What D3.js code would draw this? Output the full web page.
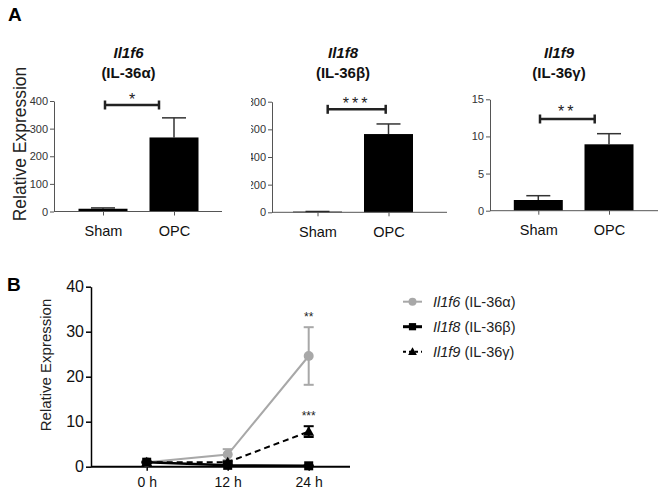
<!DOCTYPE html>
<html>
<head>
<meta charset="utf-8">
<script src="https://cdn.jsdelivr.net/npm/d3@7"></script>
<style>
  html, body { margin: 0; padding: 0; background: #fff; }
  svg { display: block; font-family: "Liberation Sans", Arial, sans-serif; }
</style>
</head>
<body>
<svg id="chart" width="663" height="491"></svg>
<script>
// ---------------- DATA ----------------
const groups = ["Sham", "OPC"];
const geneNames = ["Il1f6", "Il1f8", "Il1f9"];
const proteinNames = ["(IL-36α)", "(IL-36β)", "(IL-36γ)"];
const il1f6Bars = [10, 268];
const il1f6BarErr = [3, 71];
const il1f8Bars = [5, 566];
const il1f8BarErr = [1, 73];
const il1f9Bars = [1.44, 8.94];
const il1f9BarErr = [0.58, 1.43];
const il1f6Ticks = [0, 100, 200, 300, 400];
const il1f8Ticks = [0, 200, 400, 600, 800];
const il1f9Ticks = [0, 5, 10, 15];
const sigLabels = ["*", "***", "**"];

const times = ["0 h", "12 h", "24 h"];
const il1f6Mean = [1.0, 2.7, 24.6];
const il1f6Sem = [0.3, 1.2, 6.4];
const il1f8Mean = [1.0, 0.3, 0.2];
const il1f8Sem = [0.1, 0.1, 0.1];
const il1f9Mean = [1.0, 1.0, 7.8];
const il1f9Sem = [0.1, 0.2, 1.2];
const timeTicks = [0, 10, 20, 30, 40];
const timeSig = ["**", "***"];
const legendGenes = ["Il1f6", "Il1f8", "Il1f9"];
const legendProteins = [" (IL-36α)", " (IL-36β)", " (IL-36γ)"];

// ---------------- LAYOUT ----------------
const svg = d3.select("#chart");
svg.append("rect").attr("width", 663).attr("height", 491).attr("fill", "#fff");

const FONT = "'Liberation Sans', Arial, sans-serif";

svg.append("text").attr("x", 8).attr("y", 21).text("A")
  .attr("font-size", 19).attr("font-weight", "bold").attr("fill", "#000");
svg.append("text").attr("x", 7).attr("y", 291).text("B")
  .attr("font-size", 19).attr("font-weight", "bold").attr("fill", "#000");

const panels = [
  { vals: il1f6Bars, err: il1f6BarErr, ticks: il1f6Ticks, axisX: 54, endX: 222, c0: 103, c1: 174,
    y0: 211.5, y1: 101, sigL: 105, sigR: 159, sigY: 105, starY: 101, titleX: 128.5, clip: null, ls: 0 },
  { vals: il1f8Bars, err: il1f8BarErr, ticks: il1f8Ticks, axisX: 272, endX: 447, c0: 317.5, c1: 388.5,
    y0: 212.3, y1: 101.7, sigL: 327.7, sigR: 385.7, sigY: 109.3, starY: 105, titleX: 343, clip: 251, ls: 3 },
  { vals: il1f9Bars, err: il1f9BarErr, ticks: il1f9Ticks, axisX: 490, endX: 658, c0: 538.3, c1: 609,
    y0: 210.7, y1: 99.3, sigL: 540, sigR: 594.7, sigY: 119, starY: 113, titleX: 559, clip: null, ls: 3 }
];

svg.append("defs").append("clipPath").attr("id", "clipP2")
  .append("rect").attr("x", 251).attr("y", 0).attr("width", 420).attr("height", 260);

// Panel A y-label
svg.append("text")
  .attr("transform", "translate(26,144) rotate(-90)")
  .attr("text-anchor", "middle").attr("font-size", 17.5).attr("fill", "#222")
  .text("Relative Expression");

panels.forEach((p, i) => {
  const g = svg.append("g");
  if (p.clip !== null) g.attr("clip-path", "url(#clipP2)");
  const x = d3.scalePoint().domain(groups).range([p.c0, p.c1]);
  const y = d3.scaleLinear().domain([p.ticks[0], p.ticks[p.ticks.length - 1]]).range([p.y0, p.y1]);
  const bw = 49;

  // title
  const t = g.append("g").attr("font-weight", "bold").attr("font-size", 15).attr("fill", "#111")
    .attr("text-anchor", "middle");
  t.append("text").attr("x", p.titleX).attr("y", 58).attr("font-style", "italic").text(geneNames[i]);
  t.append("text").attr("x", p.titleX).attr("y", 77.5).text(proteinNames[i]);

  // error bars (upper only)
  groups.forEach((c, j) => {
    const cx = x(c);
    const top = y(p.vals[j] + p.err[j]);
    g.append("line").attr("x1", cx).attr("x2", cx).attr("y1", y(p.vals[j])).attr("y2", top)
      .attr("stroke", "#333").attr("stroke-width", 1.5);
    g.append("line").attr("x1", cx - 12).attr("x2", cx + 12).attr("y1", top).attr("y2", top)
      .attr("stroke", "#333").attr("stroke-width", 1.5);
  });

  // bars
  g.selectAll("rect.bar").data(groups).join("rect").attr("class", "bar")
    .attr("x", d => x(d) - bw / 2)
    .attr("width", bw)
    .attr("y", (d, j) => y(p.vals[j]))
    .attr("height", (d, j) => Math.max(0, y(0) - y(p.vals[j])))
    .attr("fill", "#000");

  // y axis
  const ya = g.append("g").attr("transform", `translate(${p.axisX},0)`)
    .call(d3.axisLeft(y).tickValues(p.ticks).tickSize(4).tickSizeOuter(0).tickPadding(2));
  ya.select(".domain").attr("stroke", "#555");
  ya.selectAll(".tick line").attr("stroke", "#555");
  ya.selectAll(".tick text").attr("font-size", 11).attr("fill", "#333").attr("font-family", FONT);

  // x baseline + ticks
  g.append("line").attr("x1", p.axisX).attr("x2", p.endX).attr("y1", p.y0).attr("y2", p.y0)
    .attr("stroke", "#555").attr("stroke-width", 1);
  const xa = g.append("g").attr("transform", `translate(0,${p.y0})`)
    .call(d3.axisBottom(x).tickSize(4).tickPadding(10));
  xa.select(".domain").remove();
  xa.selectAll(".tick line").attr("stroke", "#555");
  xa.selectAll(".tick text").attr("font-size", 14.5).attr("fill", "#111").attr("font-family", FONT);

  // significance bracket
  g.append("line").attr("x1", p.sigL).attr("x2", p.sigR).attr("y1", p.sigY).attr("y2", p.sigY)
    .attr("stroke", "#222").attr("stroke-width", 2.5);
  [p.sigL, p.sigR].forEach(sx => {
    g.append("line").attr("x1", sx).attr("x2", sx).attr("y1", p.sigY - 4.5).attr("y2", p.sigY + 4.5)
      .attr("stroke", "#222").attr("stroke-width", 2.5);
  });
  g.append("text").attr("x", (p.sigL + p.sigR) / 2).attr("y", p.starY + 4)
    .attr("text-anchor", "middle").attr("font-size", 16).attr("fill", "#222")
    .attr("letter-spacing", p.ls).text(sigLabels[i]);
});

// ---------------- PANEL B ----------------
const bx = d3.scalePoint().domain(times).range([146.7, 308.7]);
const by = d3.scaleLinear().domain([0, 40]).range([466.7, 286.7]);
const gB = svg.append("g");

svg.append("text")
  .attr("transform", "translate(51,365) rotate(-90)")
  .attr("text-anchor", "middle").attr("font-size", 15).attr("fill", "#222")
  .text("Relative Expression");

const yB = gB.append("g").attr("transform", "translate(91,0)")
  .call(d3.axisLeft(by).tickValues(timeTicks).tickSize(5).tickSizeOuter(0).tickPadding(2));
yB.select(".domain").attr("stroke", "#000").attr("stroke-width", 1.5);
yB.selectAll(".tick line").attr("stroke", "#000").attr("stroke-width", 1.5);
yB.selectAll(".tick text").attr("font-size", 16).attr("fill", "#111").attr("font-family", FONT);

const xB = gB.append("g").attr("transform", "translate(0,466.7)")
  .call(d3.axisBottom(bx).tickSize(4).tickPadding(6));
xB.select(".domain").remove();
xB.selectAll(".tick line").attr("stroke", "#000").attr("stroke-width", 1.5);
xB.selectAll(".tick text").attr("font-size", 14).attr("fill", "#111").attr("font-family", FONT);
gB.append("line").attr("x1", 91).attr("x2", 350).attr("y1", 466.7).attr("y2", 466.7)
  .attr("stroke", "#000").attr("stroke-width", 2);

const GRAY = "#a8a8a8";
const line = d3.line().x((d, i) => bx(times[i])).y(d => by(d));

const series = [
  { mean: il1f6Mean, sem: il1f6Sem, color: GRAY, dash: null, shape: "circle" },
  { mean: il1f9Mean, sem: il1f9Sem, color: "#000", dash: "6,4", shape: "triangle" },
  { mean: il1f8Mean, sem: il1f8Sem, color: "#000", dash: null, shape: "square" }
];

function drawMarker(g, shape, cx, cy, color, s) {
  if (shape === "circle") {
    g.append("circle").attr("cx", cx).attr("cy", cy).attr("r", 5 * s).attr("fill", color);
  } else if (shape === "square") {
    g.append("rect").attr("x", cx - 4.5 * s).attr("y", cy - 4.5 * s).attr("width", 9 * s).attr("height", 9 * s).attr("fill", color);
  } else {
    const r = 5.5 * s;
    g.append("path").attr("d", `M${cx},${cy - r}L${cx + r},${cy + r * 0.75}L${cx - r},${cy + r * 0.75}Z`).attr("fill", color);
  }
}

series.forEach(s => {
  s.mean.forEach((m, i) => {
    const cx = bx(times[i]);
    const lo = by(m - s.sem[i]), hi = by(m + s.sem[i]);
    gB.append("line").attr("x1", cx).attr("x2", cx).attr("y1", lo).attr("y2", hi)
      .attr("stroke", s.color).attr("stroke-width", 2);
    [lo, hi].forEach(yy => gB.append("line").attr("x1", cx - 5).attr("x2", cx + 5).attr("y1", yy).attr("y2", yy)
      .attr("stroke", s.color).attr("stroke-width", 2));
  });
  gB.append("path").attr("d", line(s.mean)).attr("fill", "none").attr("stroke", s.color)
    .attr("stroke-width", s.shape === "square" ? 2.5 : 2).attr("stroke-dasharray", s.dash);
  s.mean.forEach((m, i) => drawMarker(gB, s.shape, bx(times[i]), by(m), s.color, 1));
});

// significance stars at 24 h
gB.append("text").attr("x", bx("24 h")).attr("y", by(il1f6Mean[2] + il1f6Sem[2]) - 6)
  .attr("text-anchor", "middle").attr("font-size", 12).attr("fill", "#222").text(timeSig[0]);
gB.append("text").attr("x", bx("24 h")).attr("y", by(il1f9Mean[2] + il1f9Sem[2]) - 6)
  .attr("text-anchor", "middle").attr("font-size", 12).attr("fill", "#222").text(timeSig[1]);

// legend
const legY = [301.7, 326.7, 351.7];
const legStyles = [
  { color: GRAY, dash: null, shape: "circle" },
  { color: "#000", dash: null, shape: "square" },
  { color: "#000", dash: "3,3", shape: "triangle" }
];
legendGenes.forEach((gname, i) => {
  const st = legStyles[i];
  const gl = svg.append("g");
  gl.append("line").attr("x1", 403).attr("x2", 422).attr("y1", legY[i]).attr("y2", legY[i])
    .attr("stroke", st.color).attr("stroke-width", st.shape === "square" ? 3 : 2).attr("stroke-dasharray", st.dash);
  drawMarker(gl, st.shape, 412.5, legY[i], st.color, 0.8);
  const t = gl.append("text").attr("x", 433).attr("y", legY[i] + 5).attr("font-size", 14.5).attr("fill", "#222");
  t.append("tspan").attr("font-style", "italic").text(gname);
  t.append("tspan").text(legendProteins[i]);
});
</script>
</body>
</html>
